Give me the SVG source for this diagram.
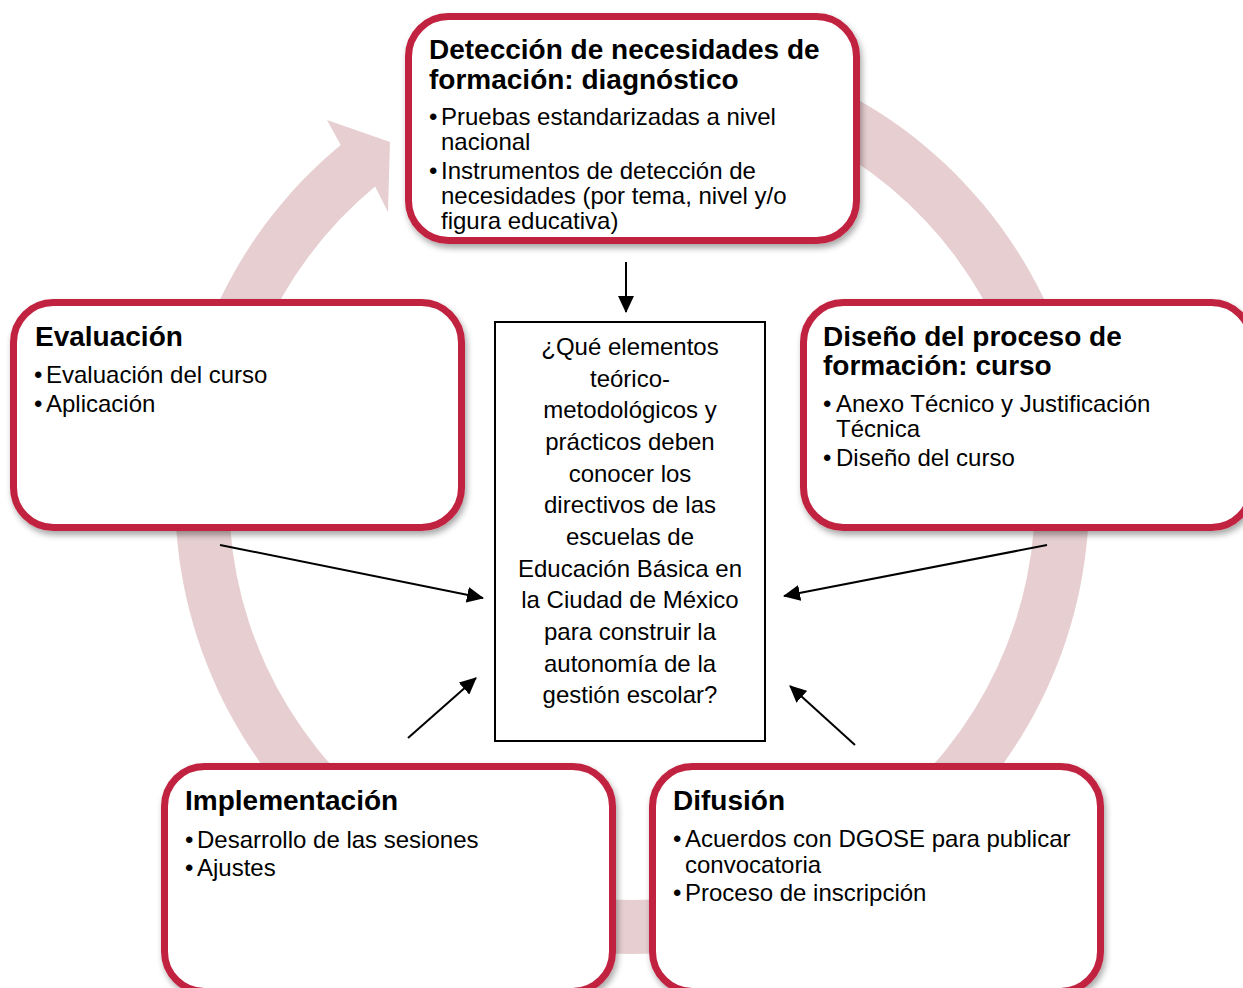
<svg xmlns="http://www.w3.org/2000/svg" width="1243" height="988" viewBox="0 0 1243 988">
<defs>
<style>
.box{fill:#ffffff;stroke:#C0223F;stroke-width:7;filter:url(#sh);}
.t{font-family:"Liberation Sans",Arial,sans-serif;font-size:28px;font-weight:bold;fill:#000;}
.b{font-family:"Liberation Sans",Arial,sans-serif;font-size:24px;fill:#000;}
.c{font-family:"Liberation Sans",Arial,sans-serif;font-size:24px;fill:#000;text-anchor:middle;}
.ar{stroke:#000;stroke-width:2;fill:none;marker-end:url(#ah);}
</style>
<filter id="sh" x="-10%" y="-10%" width="125%" height="130%">
<feDropShadow dx="2" dy="4" stdDeviation="3" flood-color="#000" flood-opacity="0.35"/>
</filter>
<marker id="ah" viewBox="0 0 17 16" refX="16" refY="8" markerWidth="17" markerHeight="16" markerUnits="userSpaceOnUse" orient="auto">
<path d="M0,0 L17,8 L0,16 Z" fill="#000"/>
</marker>
</defs>
<rect width="1243" height="988" fill="#ffffff"/>
<g id="cycle-ring">
<path d="M568.4,44.4 A457,457 0 1 1 340.7,144.9 L327,120 L390,142 L388,212 L375.1,186.5 A403,403 0 1 0 575.9,97.9 Z" fill="#E7CFD1"/>
</g>
<g id="node-deteccion">
<rect class="box" x="408.5" y="16.5" width="448" height="224" rx="40" ry="40"/>
<text class="t" x="429" y="59">Detección de necesidades de</text>
<text class="t" x="429" y="89">formación: diagnóstico</text>
<text class="b" x="429" y="125">•</text>
<text class="b" x="441" y="125">Pruebas estandarizadas a nivel</text>
<text class="b" x="441" y="150">nacional</text>
<text class="b" x="429" y="179">•</text>
<text class="b" x="441" y="179">Instrumentos de detección de</text>
<text class="b" x="441" y="204">necesidades (por tema, nivel y/o</text>
<text class="b" x="441" y="229">figura educativa)</text>
</g>
<g id="node-evaluacion">
<rect class="box" x="13.5" y="302.5" width="448" height="225" rx="40" ry="40"/>
<text class="t" x="35" y="346">Evaluación</text>
<text class="b" x="34" y="383">•</text>
<text class="b" x="46" y="383">Evaluación del curso</text>
<text class="b" x="34" y="412">•</text>
<text class="b" x="46" y="412">Aplicación</text>
</g>
<g id="node-diseno">
<rect class="box" x="803.5" y="302.5" width="448" height="225" rx="40" ry="40"/>
<text class="t" x="823" y="346">Diseño del proceso de</text>
<text class="t" x="823" y="375">formación: curso</text>
<text class="b" x="823" y="412">•</text>
<text class="b" x="836" y="412">Anexo Técnico y Justificación</text>
<text class="b" x="836" y="437">Técnica</text>
<text class="b" x="823" y="466">•</text>
<text class="b" x="836" y="466">Diseño del curso</text>
</g>
<g id="node-implementacion">
<rect class="box" x="164.5" y="766.5" width="448" height="225" rx="40" ry="40"/>
<text class="t" x="185" y="810">Implementación</text>
<text class="b" x="185" y="848">•</text>
<text class="b" x="197" y="848">Desarrollo de las sesiones</text>
<text class="b" x="185" y="876">•</text>
<text class="b" x="197" y="876">Ajustes</text>
</g>
<g id="node-difusion">
<rect class="box" x="652.5" y="766.5" width="448" height="225" rx="40" ry="40"/>
<text class="t" x="673" y="810">Difusión</text>
<text class="b" x="673" y="847">•</text>
<text class="b" x="685" y="847">Acuerdos con DGOSE para publicar</text>
<text class="b" x="685" y="873">convocatoria</text>
<text class="b" x="673" y="901">•</text>
<text class="b" x="685" y="901">Proceso de inscripción</text>
</g>
<g id="node-pregunta">
<rect x="495" y="322" width="270" height="419" fill="#ffffff" stroke="#000" stroke-width="2"/>
<text class="c" x="630" y="355">¿Qué elementos</text>
<text class="c" x="630" y="387">teórico-</text>
<text class="c" x="630" y="418">metodológicos y</text>
<text class="c" x="630" y="450">prácticos deben</text>
<text class="c" x="630" y="482">conocer los</text>
<text class="c" x="630" y="513">directivos de las</text>
<text class="c" x="630" y="545">escuelas de</text>
<text class="c" x="630" y="577">Educación Básica en</text>
<text class="c" x="630" y="608">la Ciudad de México</text>
<text class="c" x="630" y="640">para construir la</text>
<text class="c" x="630" y="672">autonomía de la</text>
<text class="c" x="630" y="703">gestión escolar?</text>
</g>
<g id="connectors">
<line class="ar" x1="626" y1="262" x2="626" y2="312"/>
<line class="ar" x1="220" y1="545" x2="483" y2="598"/>
<line class="ar" x1="1047" y1="545" x2="784" y2="596"/>
<line class="ar" x1="408" y1="738" x2="476" y2="678"/>
<line class="ar" x1="855" y1="745" x2="790" y2="686"/>
</g>
</svg>
